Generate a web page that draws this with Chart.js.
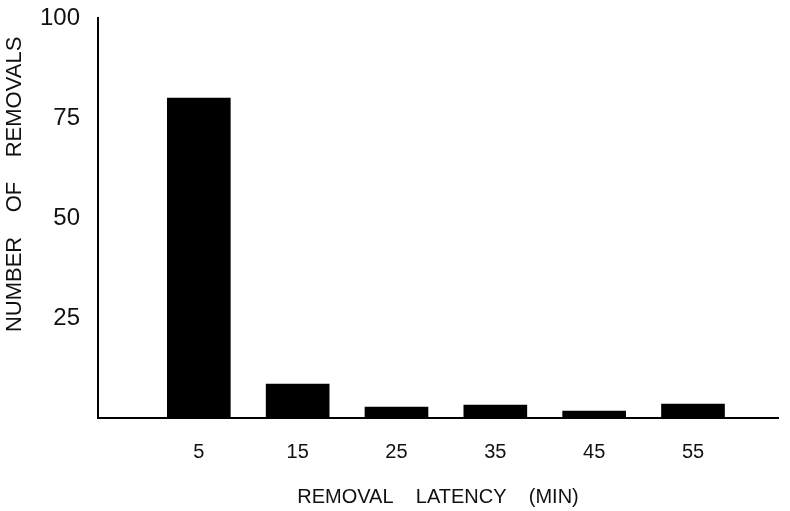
<!DOCTYPE html>
<html lang="en">
<head>
    <meta charset="UTF-8">
    <title>Removal latency</title>
    <script src="https://cdn.jsdelivr.net/npm/chart.js"></script>
    <style>
        html, body {
            margin: 0;
            padding: 0;
            background: #fff;
        }

        .chart-box {
            width: 790px;
            height: 511px;
        }
    </style>
</head>
<body>
    <div class="chart-box">
        <canvas id="barChart"></canvas>
    </div>

    <script>
        // data
        var latencies = [5, 15, 25, 35, 45, 55];
        var removals = [80, 8.5, 2.75, 3.25, 1.75, 3.5];
        var yTicks = [25, 50, 75, 100];

        var barData = latencies.map(function (v, i) {
            return { x: v, y: removals[i] };
        });

        var chartFont = 'Liberation Sans, Arial, sans-serif';

        var barChart = new Chart(document.getElementById('barChart'), {
            type: 'bar',
            data: {
                datasets: [{
                    label: 'Number of removals',
                    data: barData,
                    backgroundColor: '#000',
                    borderWidth: 0,
                    barThickness: 63
                }]
            },
            options: {
                responsive: true,
                maintainAspectRatio: false,
                animation: false,
                layout: {
                    padding: { top: 18, right: 12, left: 0, bottom: 0 }
                },
                plugins: {
                    legend: { display: false },
                    tooltip: { enabled: false }
                },
                scales: {
                    x: {
                        type: 'linear',
                        offset: false,
                        min: -5.2,
                        max: 63.6,
                        grid: { display: false, drawTicks: false, offset: false },
                        border: { display: true, color: '#000', width: 2 },
                        afterBuildTicks: function (scale) {
                            scale.ticks = latencies.map(function (v) { return { value: v }; });
                        },
                        afterFit: function (scale) {
                            scale.height = 93;
                        },
                        ticks: {
                            color: '#111',
                            padding: 22,
                            font: { family: chartFont, size: 20 },
                            callback: function (v) { return String(v); }
                        },
                        title: {
                            display: true,
                            text: 'REMOVAL    LATENCY    (MIN)',
                            color: '#111',
                            padding: { top: 0, bottom: 2 },
                            font: { family: chartFont, size: 20 }
                        }
                    },
                    y: {
                        min: 0,
                        max: 100,
                        grid: { display: false, drawTicks: false },
                        border: { display: true, color: '#000', width: 2 },
                        afterBuildTicks: function (scale) {
                            scale.ticks = yTicks.map(function (v) { return { value: v }; });
                        },
                        afterFit: function (scale) {
                            scale.width = 98;
                            // don't reserve room above the 100 label
                            scale.paddingTop = 0;
                            scale.paddingBottom = 0;
                        },
                        ticks: {
                            color: '#111',
                            padding: 18,
                            font: { family: chartFont, size: 24 }
                        },
                        title: {
                            display: true,
                            text: '           NUMBER    OF    REMOVALS',
                            color: '#111',
                            padding: { top: 2, bottom: 0 },
                            font: { family: chartFont, size: 22 }
                        }
                    }
                }
            }
        });
    </script>
</body>
</html>
